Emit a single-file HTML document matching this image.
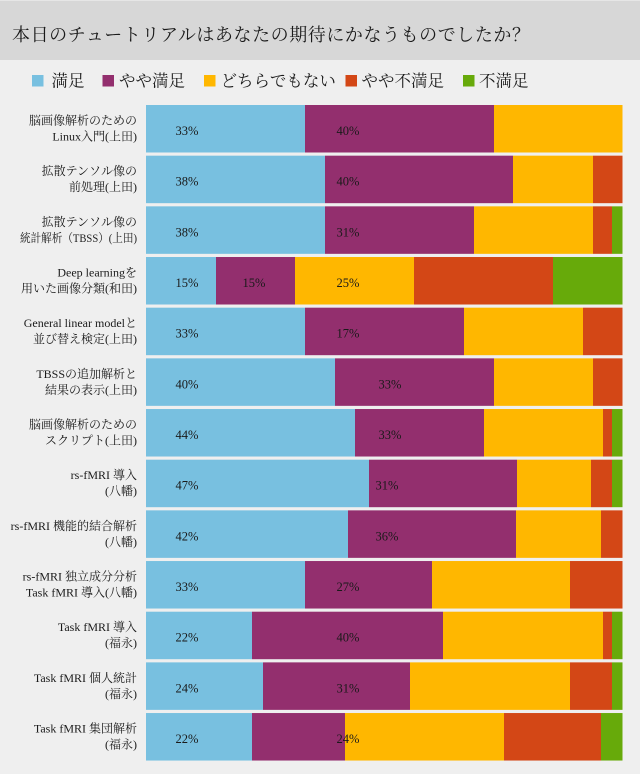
<!DOCTYPE html>
<html><head><meta charset="utf-8">
<style>
html,body{margin:0;padding:0;background:#efefef;}
svg{display:block;}
text{font-family:"Liberation Serif","Noto Serif CJK SC",serif;fill:#1a1a1a;}
</style></head>
<body>
<svg width="640" height="774" viewBox="0 0 640 774" xmlns="http://www.w3.org/2000/svg">
<rect x="0" y="0" width="640" height="774" fill="#efefef"/>
<rect x="0" y="0" width="640" height="60" fill="#d7d7d7"/>
<rect x="0" y="0" width="640" height="1" fill="#e6e6e6"/>
<text x="12" y="41" font-size="18" textLength="518" lengthAdjust="spacing">本日のチュートリアルはあなたの期待にかなうものでしたか？</text>

<g font-size="16.5">
<rect x="32" y="75" width="11.5" height="11.5" fill="#78c0e0"/>
<text x="51.5" y="86.5">満足</text>
<rect x="102.5" y="75" width="11.5" height="11.5" fill="#932f6e"/>
<text x="119" y="86.5">やや満足</text>
<rect x="204" y="75" width="11.5" height="11.5" fill="#ffb700"/>
<text x="220.5" y="86.5">どちらでもない</text>
<rect x="345.5" y="75" width="11.5" height="11.5" fill="#d34716"/>
<text x="361.5" y="86.5">やや不満足</text>
<rect x="463" y="75" width="11.5" height="11.5" fill="#67aa0a"/>
<text x="479" y="86.5">不満足</text>
</g>

<g id="bars"></g>
</svg>
<script>
var rows=[
 {l:["脳画像解析のための","Linux入門(上田)"],e:[305,494,622.5],t:[["33%",187],["40%",348]]},
 {l:["拡散テンソル像の","前処理(上田)"],e:[325,513,593,622.5],t:[["38%",187],["40%",348]]},
 {l:["拡散テンソル像の","統計解析（TBSS）(上田)"],w2:117,e:[325,474,593,612,622.5],t:[["38%",187],["31%",348]]},
 {l:["Deep learningを","用いた画像分類(和田)"],e:[216,295,414,553,622.5],t:[["15%",187],["15%",254],["25%",348]]},
 {l:["General linear modelと","並び替え検定(上田)"],e:[305,464,583,622.5],t:[["33%",187],["17%",348]]},
 {l:["TBSSの追加解析と","結果の表示(上田)"],e:[335,494,593,622.5],t:[["40%",187],["33%",390]]},
 {l:["脳画像解析のための","スクリプト(上田)"],e:[355,484,603,612,622.5],t:[["44%",187],["33%",390]]},
 {l:["rs-fMRI 導入","(八幡)"],e:[369,517,591,612,622.5],t:[["47%",187],["31%",387]]},
 {l:["rs-fMRI 機能的結合解析","(八幡)"],e:[348,516,601,622.5],t:[["42%",187],["36%",387]]},
 {l:["rs-fMRI 独立成分分析","Task fMRI 導入(八幡)"],e:[305,432,570,622.5],t:[["33%",187],["27%",348]]},
 {l:["Task fMRI 導入","(福永)"],e:[252,443,603,612,622.5],t:[["22%",187],["40%",348]]},
 {l:["Task fMRI 個人統計","(福永)"],e:[263,410,570,612,622.5],t:[["24%",187],["31%",348]]},
 {l:["Task fMRI 集団解析","(福永)"],e:[252,345,504,601,622.5],t:[["22%",187],["24%",348]]}
];
var cols=["#78c0e0","#932f6e","#ffb700","#d34716","#67aa0a"];
var g=document.getElementById("bars"),s="";
rows.forEach(function(r,i){
  var top=105+i*50.67,x=146;
  r.e.forEach(function(end,j){
    s+='<rect x="'+x+'" y="'+top.toFixed(2)+'" width="'+(end-x).toFixed(2)+'" height="47.5" fill="'+cols[j]+'"/>';
    x=end;
  });
  r.t.forEach(function(t){
    s+='<text x="'+t[1]+'" y="'+(top+30).toFixed(2)+'" font-size="12.5" text-anchor="middle">'+t[0]+'</text>';
  });
  s+='<text x="137" y="'+(top+19.5).toFixed(2)+'" font-size="12" text-anchor="end">'+r.l[0]+'</text>';
  if(r.w2){
    s+='<text x="'+(137-r.w2)+'" y="'+(top+35.5).toFixed(2)+'" font-size="12" textLength="'+r.w2+'" lengthAdjust="spacingAndGlyphs">'+r.l[1]+'</text>';
  } else {
    s+='<text x="137" y="'+(top+35.5).toFixed(2)+'" font-size="12" text-anchor="end">'+r.l[1]+'</text>';
  }
});
g.innerHTML=s;
</script>
</body></html>
